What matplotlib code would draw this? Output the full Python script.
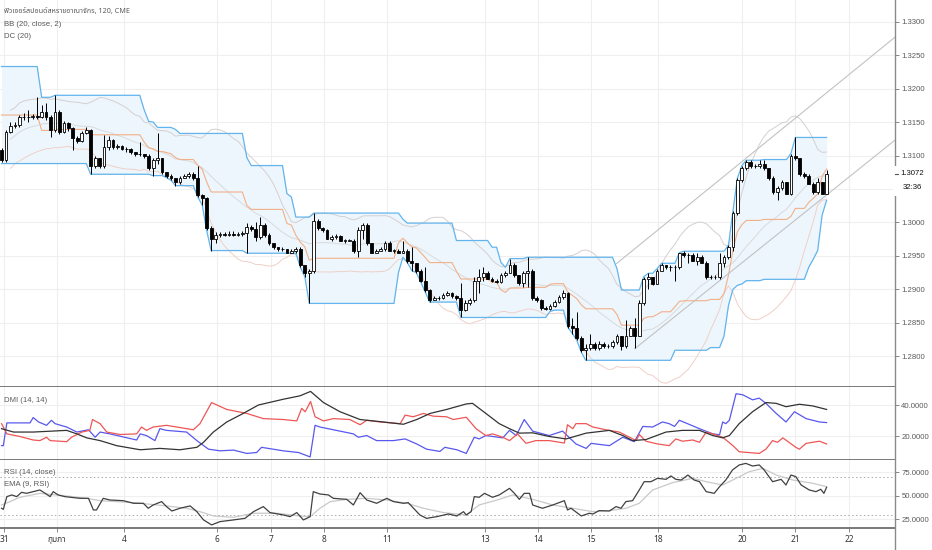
import numpy as np
import pandas as pd
import matplotlib
matplotlib.use("Agg")
import matplotlib.pyplot as plt
from matplotlib import font_manager
from matplotlib.ft2font import FT2Font
from matplotlib.lines import Line2D
from matplotlib.patches import Rectangle
import matplotlib.transforms as mtransforms

# ---------------- texts ----------------
title = "ฟิวเจอร์สปอนด์สหราชอาณาจักร, 120, CME"
bb_label = "BB (20, close, 2)"
dc_label = "DC (20)"
dmi_label = "DMI (14, 14)"
rsi_label = "RSI (14, close)"
ema_label = "EMA (9, RSI)"
last_price_label = "1.3072"
countdown_label = "32:36"

# ---------------- candles (120 min bars) ----------------
first_open = 1.3108
close = [1.3094, 1.3135, 1.3144, 1.3145, 1.3157, 1.3157, 1.3157, 1.3159, 1.3157, 1.3165,
         1.3157, 1.3138, 1.3165, 1.3135, 1.3148, 1.3141, 1.3126, 1.3121, 1.3133, 1.3138,
         1.3085, 1.3096, 1.3085, 1.3112, 1.3123, 1.3112, 1.3114, 1.3109, 1.3109, 1.3105,
         1.3102, 1.3102, 1.3100, 1.3081, 1.3094, 1.3096, 1.3075, 1.3070, 1.3066, 1.3060,
         1.3067, 1.3069, 1.3072, 1.3066, 1.3041, 1.3036, 1.2991, 1.2976, 1.2981, 1.2982,
         1.2981, 1.2982, 1.2981, 1.2982, 1.2984, 1.2993, 1.2990, 1.2978, 1.2996, 1.2981,
         1.2969, 1.2963, 1.2961, 1.2960, 1.2955, 1.2957, 1.2961, 1.2936, 1.2924, 1.2928,
         1.3002, 1.2991, 1.2988, 1.2976, 1.2978, 1.2979, 1.2973, 1.2973, 1.2973, 1.2958,
         1.2988, 1.2996, 1.2969, 1.2955, 1.2958, 1.2960, 1.2970, 1.2958, 1.2958, 1.2955,
         1.2958, 1.2943, 1.2939, 1.2928, 1.2913, 1.2899, 1.2884, 1.2887, 1.2887, 1.2891,
         1.2894, 1.2890, 1.2887, 1.2869, 1.2879, 1.2884, 1.2913, 1.2918, 1.2925, 1.2916,
         1.2913, 1.2911, 1.2921, 1.2925, 1.2937, 1.2921, 1.2909, 1.2925, 1.2928, 1.2887,
         1.2884, 1.2872, 1.2870, 1.2875, 1.2881, 1.2888, 1.2894, 1.2846, 1.2843, 1.2827,
         1.2809, 1.2813, 1.2819, 1.2812, 1.2819, 1.2816, 1.2815, 1.2821, 1.2830, 1.2816,
         1.2831, 1.2843, 1.2831, 1.2879, 1.2916, 1.2918, 1.2908, 1.2928, 1.2936, 1.2933,
         1.2933, 1.2933, 1.2954, 1.2951, 1.2952, 1.2943, 1.2949, 1.2940, 1.2918, 1.2918,
         1.2918, 1.2940, 1.2948, 1.2963, 1.3014, 1.3063, 1.3082, 1.3090, 1.3084, 1.3084,
         1.3087, 1.3081, 1.3066, 1.3045, 1.3052, 1.3060, 1.3043, 1.3100, 1.3096, 1.3073,
         1.3070, 1.3058, 1.3045, 1.3060, 1.3043, 1.3073]
high = [1.3111, 1.3138, 1.3150, 1.3150, 1.3160, 1.3163, 1.3168, 1.3162, 1.3187, 1.3175,
        1.3178, 1.3160, 1.3190, 1.3168, 1.3151, 1.3150, 1.3142, 1.3129, 1.3136, 1.3142,
        1.3139, 1.3099, 1.3097, 1.3130, 1.3129, 1.3124, 1.3117, 1.3115, 1.3112, 1.3111,
        1.3106, 1.3120, 1.3103, 1.3102, 1.3097, 1.3133, 1.3097, 1.3076, 1.3072, 1.3067,
        1.3070, 1.3072, 1.3075, 1.3075, 1.3085, 1.3043, 1.3038, 1.2994, 1.2985, 1.2985,
        1.2985, 1.2987, 1.2987, 1.2985, 1.2987, 1.2999, 1.2996, 1.3000, 1.3008, 1.2999,
        1.2984, 1.2970, 1.2964, 1.2963, 1.2961, 1.2960, 1.2964, 1.2964, 1.2937, 1.2931,
        1.3014, 1.3005, 1.2993, 1.2990, 1.2981, 1.2982, 1.2981, 1.2976, 1.2976, 1.2975,
        1.2993, 1.2999, 1.2999, 1.2969, 1.2961, 1.2963, 1.2973, 1.2972, 1.2961, 1.2961,
        1.2973, 1.2960, 1.2963, 1.2940, 1.2930, 1.2933, 1.2900, 1.2890, 1.2890, 1.2894,
        1.2897, 1.2896, 1.2891, 1.2909, 1.2884, 1.2887, 1.2918, 1.2931, 1.2933, 1.2927,
        1.2919, 1.2916, 1.2924, 1.2928, 1.2946, 1.2940, 1.2922, 1.2928, 1.2948, 1.2931,
        1.2890, 1.2885, 1.2875, 1.2878, 1.2884, 1.2891, 1.2899, 1.2896, 1.2857, 1.2866,
        1.2830, 1.2819, 1.2834, 1.2821, 1.2823, 1.2821, 1.2819, 1.2824, 1.2833, 1.2831,
        1.2854, 1.2846, 1.2857, 1.2884, 1.2919, 1.2924, 1.2918, 1.2931, 1.2939, 1.2936,
        1.2936, 1.2936, 1.2955, 1.2957, 1.2955, 1.2954, 1.2954, 1.2951, 1.2942, 1.2921,
        1.2921, 1.2954, 1.2951, 1.2966, 1.3017, 1.3066, 1.3085, 1.3093, 1.3093, 1.3087,
        1.3093, 1.3094, 1.3082, 1.3069, 1.3055, 1.3063, 1.3061, 1.3103, 1.3127, 1.3097,
        1.3076, 1.3072, 1.3060, 1.3066, 1.3061, 1.3078]
low = [1.3091, 1.3091, 1.3133, 1.3141, 1.3142, 1.3153, 1.3150, 1.3154, 1.3154, 1.3156,
       1.3153, 1.3127, 1.3135, 1.3132, 1.3133, 1.3136, 1.3108, 1.3118, 1.3120, 1.3132,
       1.3072, 1.3081, 1.3082, 1.3082, 1.3108, 1.3109, 1.3109, 1.3108, 1.3106, 1.3103,
       1.3100, 1.3099, 1.3097, 1.3078, 1.3070, 1.3088, 1.3072, 1.3067, 1.3063, 1.3055,
       1.3058, 1.3066, 1.3066, 1.3064, 1.3038, 1.3026, 1.2988, 1.2958, 1.2969, 1.2978,
       1.2979, 1.2979, 1.2979, 1.2979, 1.2979, 1.2954, 1.2987, 1.2973, 1.2976, 1.2978,
       1.2966, 1.2961, 1.2958, 1.2957, 1.2954, 1.2954, 1.2954, 1.2933, 1.2919, 1.2879,
       1.2925, 1.2988, 1.2985, 1.2975, 1.2973, 1.2975, 1.2972, 1.2970, 1.2972, 1.2955,
       1.2948, 1.2976, 1.2966, 1.2954, 1.2955, 1.2957, 1.2957, 1.2957, 1.2955, 1.2954,
       1.2954, 1.2940, 1.2928, 1.2925, 1.2911, 1.2896, 1.2881, 1.2884, 1.2884, 1.2885,
       1.2890, 1.2887, 1.2884, 1.2858, 1.2867, 1.2876, 1.2881, 1.2894, 1.2913, 1.2915,
       1.2911, 1.2909, 1.2909, 1.2919, 1.2924, 1.2919, 1.2906, 1.2903, 1.2903, 1.2884,
       1.2881, 1.2869, 1.2869, 1.2869, 1.2873, 1.2879, 1.2885, 1.2843, 1.2834, 1.2824,
       1.2806, 1.2794, 1.2809, 1.2810, 1.2810, 1.2813, 1.2812, 1.2813, 1.2818, 1.2809,
       1.2813, 1.2830, 1.2813, 1.2830, 1.2876, 1.2900, 1.2906, 1.2908, 1.2927, 1.2930,
       1.2928, 1.2913, 1.2930, 1.2949, 1.2939, 1.2942, 1.2936, 1.2939, 1.2916, 1.2916,
       1.2915, 1.2915, 1.2933, 1.2945, 1.2958, 1.3011, 1.3060, 1.3078, 1.3081, 1.3081,
       1.3081, 1.3078, 1.3064, 1.3043, 1.3033, 1.3049, 1.3042, 1.3041, 1.3093, 1.3070,
       1.3067, 1.3057, 1.3043, 1.3043, 1.3042, 1.3042]

# Donchian levels already in force before the first visible bar
dc_prior_high = 1.3233
dc_prior_high_bars = 9
dc_prior_low = 1.3088
dc_prior_low_bars = 20

# ---------------- axis labels ----------------
date_labels = ["31", "กุมภา", "4", "6", "7", "8", "11", "13", "14", "15", "18", "20", "21", "22"]
date_bars = [0.6, 12.4, 27.5, 48.3, 60.4, 72.3, 86.4, 108.4, 120.3, 132.2, 147.2, 166.0, 177.9, 190.0]
price_ticks = [1.2800, 1.2850, 1.2900, 1.2950, 1.3000, 1.3050, 1.3100, 1.3150, 1.3200, 1.3250, 1.3300]
price_hidden = [1.3050]
dmi_ticks = [20, 40]
rsi_ticks = [25, 50, 75]
rsi_bands = [70, 30]

# ---------------- trend lines (bar, price) ----------------
trend_upper = [(137.9, 1.29385), (183.5, 1.31856)]
trend_lower = [(142.0, 1.28114), (200.3, 1.31228)]

# ---------------- DMI ----------------
plus_di_pts = [(0, 13.7), (0.4, 13.7), (1.2, 28.6), (6.4, 28.6), (7.1, 32.1), (8.3, 29.2), (10.1, 27.0),
               (11.2, 30.3), (12.0, 28.1), (14.6, 25.9), (16.9, 22.6), (19.5, 24.1), (21.0, 19.2),
               (22.1, 22.6), (24.3, 21.4), (30.3, 17.4), (31.1, 21.4), (32.5, 20.3), (34.4, 17.0),
               (35.5, 24.8), (37.0, 23.7), (41.5, 22.6), (43.8, 17.0), (46.4, 11.4), (49.0, 10.3),
               (52.0, 10.8), (55.0, 8.6), (57.2, 9.2), (58.3, 12.6), (63.2, 10.3), (66.6, 9.2),
               (69.2, 6.3), (70.3, 27.0), (71.4, 25.9), (74.4, 24.1), (78.9, 21.4), (80.0, 19.2),
               (81.9, 20.3), (84.1, 17.0), (87.9, 17.0), (90.5, 18.1), (93.1, 14.8), (95.3, 11.4),
               (98.3, 9.9), (99.4, 12.6), (102.1, 11.0), (104.2, 8.6), (106.0, 19.2), (107.1, 18.1),
               (108.6, 20.3), (112.4, 18.8), (113.9, 23.7), (115.4, 20.3), (117.2, 30.8), (119.1, 23.2),
               (122.8, 20.3), (125.8, 23.2), (128.8, 14.8), (131.1, 11.9), (132.2, 15.2), (136.3, 13.7),
               (139.3, 19.2), (141.9, 16.3), (143.8, 26.3), (146.0, 25.9), (148.2, 29.2), (149.7, 28.1),
               (150.9, 26.3), (152.0, 30.3), (156.5, 24.8), (159.5, 21.4), (161.0, 20.8), (161.7, 29.2),
               (162.4, 28.1), (163.2, 30.3), (164.7, 47.7), (166.2, 47.0), (168.4, 43.7), (169.9, 44.8),
               (171.4, 41.4), (173.7, 34.8), (175.9, 29.2), (177.8, 35.9), (180.4, 31.4), (183.4, 29.2),
               (185.0, 28.8)]
minus_di_pts = [(0, 28.1), (1.2, 21.4), (4.1, 19.7), (7.1, 17.4), (8.6, 17.0), (10.1, 19.2), (10.9, 17.0),
                (14.6, 16.3), (15.7, 19.2), (18.0, 22.6), (19.8, 23.7), (20.4, 30.8), (22.1, 28.1),
                (23.6, 22.6), (26.6, 21.0), (30.3, 21.4), (31.4, 25.9), (32.5, 23.7), (34.0, 25.9),
                (37.0, 27.0), (43.0, 24.1), (44.5, 28.1), (47.1, 41.9), (50.5, 37.4), (55.0, 34.8),
                (58.7, 31.4), (63.2, 30.8), (66.2, 29.9), (67.3, 38.1), (68.1, 35.9), (69.3, 42.6),
                (70.3, 32.6), (72.2, 29.9), (74.4, 31.4), (78.1, 30.8), (80.4, 27.4), (81.9, 30.3),
                (84.9, 29.2), (89.4, 28.1), (90.5, 33.7), (92.3, 32.6), (94.6, 34.8), (96.8, 33.0),
                (99.8, 32.6), (101.3, 30.8), (104.2, 32.3), (106.4, 24.8), (108.6, 20.3), (110.1, 21.4),
                (112.4, 19.2), (113.9, 17.0), (115.7, 21.4), (117.6, 15.2), (119.8, 17.0), (122.8, 17.0),
                (126.2, 15.4), (126.9, 27.4), (128.1, 24.8), (128.8, 28.1), (131.1, 28.1), (132.6, 25.9),
                (135.5, 24.1), (138.5, 22.6), (142.3, 17.0), (143.0, 21.0), (144.5, 16.6), (147.1, 14.8),
                (149.7, 13.7), (151.2, 18.1), (152.7, 16.6), (155.0, 17.4), (156.5, 15.9), (158.0, 22.6),
                (159.5, 21.4), (161.7, 19.2), (164.0, 13.7), (165.4, 9.7), (169.9, 8.6), (171.4, 11.4),
                (172.9, 17.0), (174.0, 15.9), (175.2, 18.8), (178.1, 12.6), (178.9, 11.4), (180.4, 15.2),
                (181.9, 15.9), (183.4, 16.6), (185.0, 14.8)]
adx_pts = [(0, 24.8), (2.7, 22.6), (7.1, 22.6), (14.6, 23.7), (16.9, 21.4), (19.1, 18.8), (22.1, 17.0),
           (25.8, 13.7), (31.1, 11.0), (35.5, 11.9), (40.0, 11.0), (43.8, 12.6), (45.3, 15.9), (47.5, 22.6),
           (50.5, 29.2), (54.2, 34.8), (57.6, 40.3), (63.2, 44.1), (66.9, 46.3), (69.3, 49.2), (72.2, 41.9),
           (75.9, 35.9), (80.4, 30.8), (85.6, 29.2), (90.1, 27.7), (93.1, 30.8), (96.1, 34.8), (99.8, 37.4),
           (104.2, 41.0), (105.6, 41.4), (108.6, 34.8), (111.6, 28.1), (113.9, 24.8), (116.1, 21.9),
           (119.1, 22.1), (122.8, 19.7), (126.6, 18.1), (131.1, 21.9), (136.3, 23.7), (139.3, 20.3),
           (141.5, 17.0), (144.5, 17.7), (149.0, 22.6), (152.7, 23.7), (156.5, 23.7), (159.5, 20.3),
           (161.7, 18.8), (163.2, 20.3), (165.4, 28.1), (168.4, 35.9), (171.4, 41.9), (173.7, 41.4),
           (175.9, 39.2), (178.9, 40.8), (181.9, 39.7), (185.0, 37.4)]

# ---------------- RSI ----------------
rsi_pts = [(0, 36.7), (0.4, 35.6), (1.2, 49.1), (2.3, 50.9), (3.4, 49.1), (4.5, 53.7), (5.6, 52.6),
           (7.1, 54.4), (8.6, 56.2), (9.8, 52.6), (10.9, 49.1), (11.6, 54.4), (12.7, 50.9), (14.2, 49.1),
           (17.6, 47.3), (19.5, 47.3), (20.6, 34.9), (21.3, 34.9), (22.8, 47.3), (24.3, 45.5), (27.3, 44.8),
           (29.6, 42.0), (31.8, 42.0), (32.9, 36.7), (34.0, 40.2), (35.9, 43.8), (37.0, 38.5), (38.2, 33.8),
           (40.0, 36.7), (42.3, 39.2), (43.8, 33.1), (45.3, 24.3), (47.1, 19.0), (49.0, 22.5), (52.0, 24.3),
           (54.6, 26.0), (56.5, 33.1), (58.7, 38.5), (60.2, 32.1), (63.2, 29.6), (64.7, 27.8), (66.2, 32.1),
           (67.7, 24.3), (69.2, 27.8), (69.9, 54.4), (71.4, 51.9), (73.3, 50.9), (74.4, 47.3), (77.4, 46.2),
           (78.9, 40.2), (80.4, 53.3), (81.9, 45.5), (84.1, 42.0), (86.4, 47.3), (87.9, 43.8), (90.1, 42.0),
           (91.2, 42.7), (93.8, 29.6), (95.3, 26.0), (97.6, 27.8), (100.2, 30.6), (102.1, 28.5),
           (103.6, 33.1), (104.2, 29.6), (105.3, 33.1), (106.0, 49.1), (107.1, 48.4), (108.3, 52.6),
           (110.1, 48.4), (111.6, 50.9), (113.9, 57.9), (115.0, 52.6), (116.1, 46.2), (117.2, 52.6),
           (118.4, 52.6), (119.1, 40.2), (121.3, 36.7), (123.6, 40.2), (126.2, 44.8), (126.9, 34.9),
           (127.7, 36.7), (130.0, 28.5), (131.8, 31.4), (132.6, 30.6), (134.0, 34.2), (136.3, 33.8),
           (137.8, 38.5), (138.9, 36.7), (140.0, 43.8), (141.5, 44.8), (143.0, 56.2), (144.1, 65.0),
           (145.6, 65.0), (147.1, 68.6), (149.0, 67.5), (150.1, 71.1), (151.2, 67.5), (152.4, 66.8),
           (153.9, 72.1), (155.3, 66.8), (156.5, 65.0), (158.0, 54.4), (159.8, 52.6), (161.0, 59.7),
           (162.4, 66.8), (163.9, 77.5), (165.4, 82.8), (166.9, 84.5), (168.4, 81.7), (169.9, 82.8),
           (171.0, 77.5), (172.9, 65.0), (174.8, 67.5), (175.9, 61.5), (177.0, 72.1), (178.1, 70.4),
           (179.3, 61.5), (181.1, 56.2), (182.6, 54.4), (183.7, 56.9), (184.4, 52.6), (185.0, 59.0)]
rsi_ema_pts = [(0, 40.2), (1.9, 43.8), (4.1, 48.4), (8.6, 52.6), (14.6, 49.8), (19.1, 47.3), (22.1, 44.8),
               (29.6, 42.7), (37.0, 39.2), (41.5, 36.7), (44.5, 33.1), (47.5, 28.5), (52.0, 27.1),
               (56.5, 31.4), (61.7, 31.4), (66.9, 28.5), (69.2, 27.8), (71.4, 36.7), (73.7, 43.8),
               (77.4, 46.2), (81.9, 47.3), (86.4, 45.5), (90.9, 42.0), (94.6, 36.7), (99.1, 32.1),
               (104.2, 29.6), (107.1, 40.2), (111.6, 46.2), (114.6, 50.9), (119.1, 46.2), (123.6, 40.2),
               (128.1, 36.7), (132.6, 33.1), (136.3, 34.2), (140.0, 36.7), (143.0, 42.0), (146.0, 56.2),
               (150.5, 64.0), (155.0, 68.6), (158.0, 65.0), (161.7, 61.5), (164.7, 68.6), (167.7, 75.7),
               (170.7, 79.2), (173.7, 72.1), (177.4, 66.8), (181.9, 63.3), (185.0, 59.7)]

# ---------------- fonts ----------------
def font_having(ch, prefer=()):
    names = []
    for f in font_manager.fontManager.ttflist:
        try:
            if ord(ch) in FT2Font(f.fname).get_charmap():
                names.append(f.name)
        except Exception:
            pass
    for p in prefer:
        if p in names:
            return p
    return names[0] if names else None

thai_font = font_having("ก", prefer=("Noto Sans Thai", "Noto Sans Thai UI", "Loma", "Garuda",
                                     "Tlwg Typo", "Norasi", "DejaVu Sans", "FreeSans"))
BASE = "Liberation Sans"
THAI_FAM = [thai_font, BASE] if thai_font else [BASE, "DejaVu Sans"]
plt.rcParams["font.family"] = [BASE, "DejaVu Sans"]

FS = 5.6
TXT = "#5a5a5a"
GRID = "#efefef"
SEP = "#6e6e6e"

# ---------------- figure ----------------
W, H = 932, 550
fig = plt.figure(figsize=(W / 100, H / 100), dpi=100)
fig.patch.set_facecolor("white")
RIGHT = 895
ax = fig.add_axes([0, 1 - 387 / H, RIGHT / W, 387 / H])
ax_dmi = fig.add_axes([0, 1 - 460 / H, RIGHT / W, 73 / H], sharex=ax)
ax_rsi = fig.add_axes([0, 1 - 528 / H, RIGHT / W, 68 / H], sharex=ax)

n = len(close)
idx = np.arange(n)
c = np.array(close)
o = np.r_[first_open, c[:-1]]
hi = np.array(high)
lo = np.array(low)

# Donchian channel
dc_up = pd.Series(hi).rolling(20, min_periods=1).max().to_numpy()
dc_lo = pd.Series(lo).rolling(20, min_periods=1).min().to_numpy()
dc_up[:dc_prior_high_bars] = np.maximum(dc_up[:dc_prior_high_bars], dc_prior_high)
dc_lo[:dc_prior_low_bars] = np.minimum(dc_lo[:dc_prior_low_bars], dc_prior_low)
dc_mid = (dc_up + dc_lo) / 2

# Bollinger bands
s = pd.Series(c)
bb_mid = s.rolling(20, min_periods=3).mean().to_numpy()
bb_sd = s.rolling(20, min_periods=3).std(ddof=0).to_numpy()
bb_up = bb_mid + 2 * bb_sd
bb_dn = bb_mid - 2 * bb_sd

ax.fill_between(idx, dc_lo, dc_up, color="#edf6fd", lw=0, zorder=1)
ax.plot(idx, bb_up, color="#d6cfcf", lw=0.7, zorder=2)
ax.plot(idx, bb_mid, color="#dadada", lw=0.7, zorder=2)
ax.plot(idx, bb_dn, color="#efd0c8", lw=0.7, zorder=2)
ax.plot(idx, dc_up, color="#62b4ec", lw=0.9, zorder=2.2)
ax.plot(idx, dc_lo, color="#62b4ec", lw=0.9, zorder=2.2)
ax.plot(idx, dc_mid, color="#f2b088", lw=0.8, zorder=2.2)

# trend lines, extended to the right
for (x1, y1), (x2, y2) in (trend_upper, trend_lower):
    k = (y2 - y1) / (x2 - x1)
    xe = 215
    ax.plot([x1, xe], [y1, y1 + k * (xe - x1)], color="#c2c2c2", lw=0.8, zorder=2.5)

# candles
up = c >= o
bot = np.minimum(o, c)
hgt = np.maximum(np.abs(c - o), 0.00003)
ax.vlines(idx, lo, hi, color="black", lw=0.7, zorder=3)
ax.bar(idx[up], hgt[up], bottom=bot[up], width=0.62, facecolor="white", edgecolor="black", lw=0.6, zorder=4)
ax.bar(idx[~up], hgt[~up], bottom=bot[~up], width=0.62, facecolor="black", edgecolor="black", lw=0.6, zorder=4)

# DMI
for pts, col in ((plus_di_pts, "#5858ee"), (minus_di_pts, "#ee5656"), (adx_pts, "#333333")):
    xs, ys = zip(*pts)
    ax_dmi.plot(xs, ys, color=col, lw=0.9, zorder=3)

# RSI
xs, ys = zip(*rsi_ema_pts)
ax_rsi.plot(xs, ys, color="#c9c9c9", lw=0.9, zorder=2)
xs, ys = zip(*rsi_pts)
ax_rsi.plot(xs, ys, color="#404040", lw=0.9, zorder=3)
for b in rsi_bands:
    ax_rsi.axhline(b, color="#a8a8a8", lw=0.7, ls=(0, (1.5, 2.5)), zorder=1)

# limits
ax.set_xlim(-0.34, 200.34)
ax.set_ylim(1.27541, 1.33324)
ax_dmi.set_ylim(4.3, 52.1)
ax_rsi.set_ylim(15.7, 88.1)

# grids
for a in (ax, ax_dmi, ax_rsi):
    for b in date_bars:
        a.axvline(b, color=GRID, lw=0.8, zorder=0)
for p in price_ticks:
    ax.axhline(p, color=GRID, lw=0.8, zorder=0)
for t in dmi_ticks:
    ax_dmi.axhline(t, color=GRID, lw=0.8, zorder=0)
for t in rsi_ticks:
    ax_rsi.axhline(t, color=GRID, lw=0.8, zorder=0)

# axes styling
for a in (ax, ax_dmi, ax_rsi):
    a.set_facecolor("white")
    for sp in ("top", "left", "right"):
        a.spines[sp].set_visible(False)
    a.spines["bottom"].set_color(SEP)
    a.spines["bottom"].set_linewidth(1.3)
    a.yaxis.tick_right()
    a.tick_params(axis="y", direction="out", length=3, width=0.7, color="#888888",
                  labelsize=FS, labelcolor=TXT, pad=1.5)
    a.tick_params(axis="x", bottom=False, labelbottom=False)

shown = [p for p in price_ticks if p not in price_hidden]
ax.set_yticks(shown)
ax.set_yticklabels([f"{p:.4f}" for p in shown])
ax_dmi.set_yticks(dmi_ticks)
ax_dmi.set_yticklabels([f"{t:.4f}" for t in dmi_ticks])
ax_rsi.set_yticks(rsi_ticks)
ax_rsi.set_yticklabels([f"{t:.4f}" for t in rsi_ticks])

ax_rsi.set_xticks(date_bars)
ax_rsi.set_xticklabels(date_labels)
ax_rsi.tick_params(axis="x", bottom=True, labelbottom=True, direction="out", length=3, width=0.7,
                   color="#888888", labelsize=FS + 0.4, labelcolor="#333333", pad=2)
for t in ax_rsi.get_xticklabels():
    t.set_fontfamily(THAI_FAM)

# right price-scale line
fig.add_artist(Line2D([RIGHT / W, RIGHT / W], [0, 1], color="#8a8a8a", lw=1.0, zorder=4))

# last price label
ybl = mtransforms.blended_transform_factory(fig.transFigure, ax.transData)
y_last_px = ax.transData.transform((0, c[-1]))[1]
fig.add_artist(Rectangle((893 / W, (y_last_px - 22) / H), 39 / W, 30 / H, transform=fig.transFigure,
                         facecolor="white", edgecolor="none", zorder=5))
fig.add_artist(Line2D([RIGHT / W, (RIGHT + 3) / W], [y_last_px / H] * 2, color="#555555", lw=0.8, zorder=6))
fig.text(900 / W, c[-1], last_price_label, transform=ybl, fontsize=FS, color="#111111",
         va="center", ha="left", zorder=6)
fig.text(903 / W, (y_last_px - 14) / H, countdown_label, fontsize=FS, color="#111111",
         va="center", ha="left", zorder=6)

# legends
def ftxt(x, y, s, fam=None, size=FS):
    kw = dict(fontsize=size, color=TXT, va="center", ha="left")
    if fam:
        kw["fontfamily"] = fam
    fig.text(x / W, 1 - y / H, s, **kw)

ftxt(4, 12, title, THAI_FAM, FS - 0.4)
ftxt(4, 24, bb_label)
ftxt(4, 36, dc_label)
ftxt(4, 400, dmi_label)
ftxt(4, 472, rsi_label)
ftxt(4, 484, ema_label)

fig.savefig("out.png", dpi=100)
